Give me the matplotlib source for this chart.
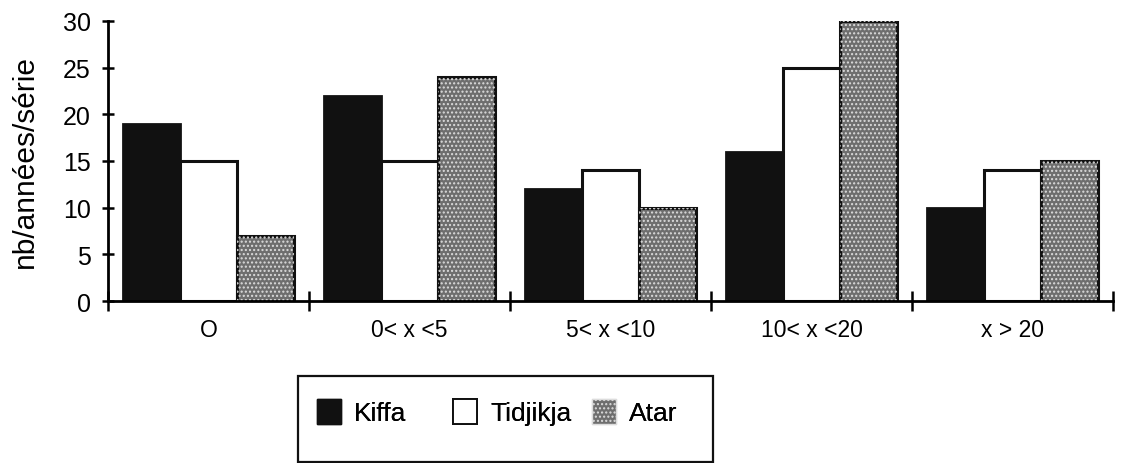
import numpy as np
import matplotlib
matplotlib.use("Agg")
import matplotlib.pyplot as plt
from matplotlib.patches import Patch, Rectangle

categories = ["O", "0< x <5", "5< x <10", "10< x <20", "x > 20"]
kiffa = [19, 22, 12, 16, 10]
tidjikja = [15, 15, 14, 25, 14]
atar = [7, 24, 10, 30, 15]
yticks = [0, 5, 10, 15, 20, 25, 30]
series_names = ["Kiffa", "Tidjikja", "Atar"]

plt.rcParams["font.family"] = ["Liberation Sans", "DejaVu Sans"]

fig = plt.figure(figsize=(11.26, 4.64), dpi=100)
ax = fig.add_axes([108 / 1126, 162 / 464, 1005 / 1126, 280 / 464])

x = np.arange(len(categories))
w = 0.285
ax.bar(x - w, kiffa, w, color="#111111", edgecolor="#111111", linewidth=2)
ax.bar(x, tidjikja, w, color="white", edgecolor="#111111", linewidth=2.2)
ax.bar(x + w, atar, w, color="#6e6e6e", edgecolor="#111111", linewidth=2.2)
# stipple texture on top of the grey bars
ax.bar(x + w, atar, w, color="none", edgecolor="#dcdcdc", linewidth=0, hatch="....")

ax.set_xlim(-0.5, len(categories) - 0.5)
ax.set_ylim(0, 30)
ax.set_yticks(yticks)
ax.set_yticklabels([str(v) for v in yticks], fontsize=18)
ax.set_xticks(np.arange(len(categories) + 1) - 0.5)
ax.set_xticklabels([])
ax.set_xticks(x, minor=True)
ax.set_xticklabels(categories, minor=True, fontsize=16.5)
ax.tick_params(axis="x", which="minor", length=0, pad=12)
ax.tick_params(axis="x", which="major", direction="inout", length=14, width=1.8)
ax.tick_params(axis="y", direction="inout", length=9, width=1.8, pad=8)

for s in ["top", "right"]:
    ax.spines[s].set_visible(False)
for s in ["left", "bottom"]:
    ax.spines[s].set_linewidth(2)

ax.set_ylabel("nb/années/série", fontsize=21.5)
ax.yaxis.set_label_coords((39 - 108) / 1005, 0.5)

# legend box drawn separately (wider than its content)
fig.add_artist(Rectangle((298 / 1126, 1 / 464), 415 / 1126, 86 / 464,
                         transform=fig.transFigure, facecolor="none",
                         edgecolor="#111111", linewidth=1.6))
handles = [
    Patch(facecolor="#111111", edgecolor="#111111"),
    Patch(facecolor="white", edgecolor="#111111", linewidth=1.4),
    Patch(facecolor="#6e6e6e", edgecolor="#dcdcdc", hatch="...."),
]
entry_x = [317, 453, 592]
for h, name, ex in zip(handles, series_names, entry_x):
    leg = fig.legend([h], [name], loc="center left",
                     bbox_to_anchor=(ex / 1126, 1 - 413 / 464),
                     frameon=False, fontsize=19, handlelength=0.9,
                     handleheight=1.1, handletextpad=0.5, borderpad=0,
                     borderaxespad=0)
    fig.add_artist(leg)

fig.savefig("out.png", dpi=100)
